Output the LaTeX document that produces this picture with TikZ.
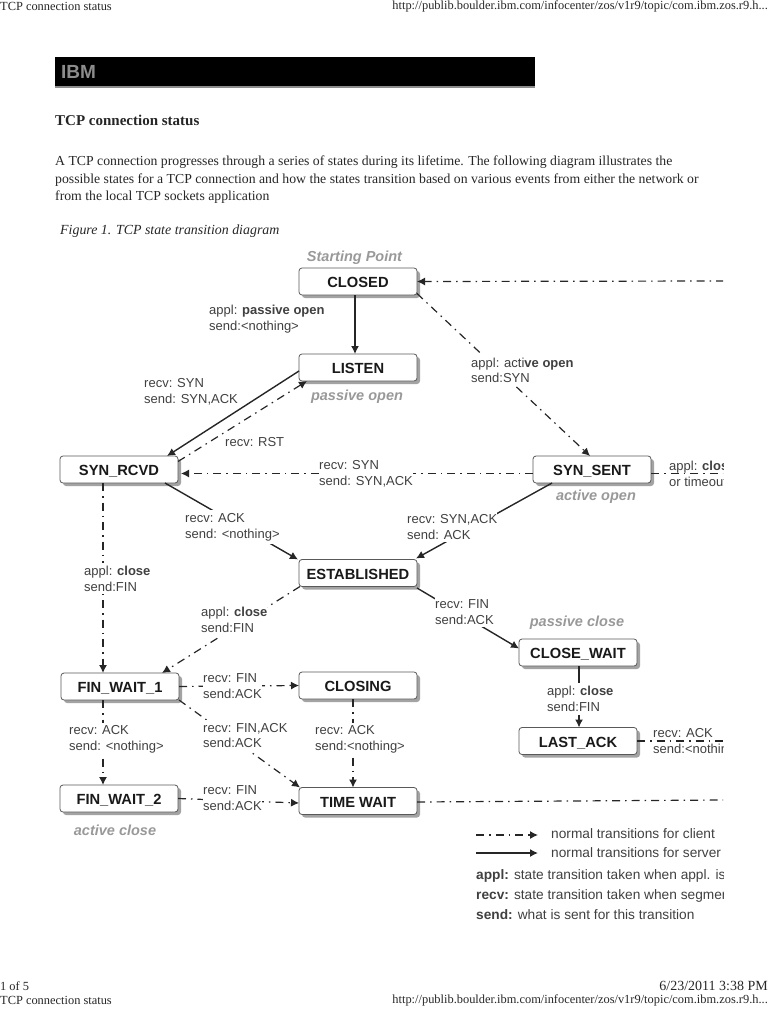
\documentclass[tikz,border=0pt]{standalone}
\usepackage{fontspec}
\setmainfont{Liberation Serif}
\setsansfont{Liberation Sans}
\usetikzlibrary{shadows,arrows.meta}
\tikzset{
  statebox/.style={draw=black!65,fill=white,rounded corners=3pt,line width=0.8pt,minimum width=118pt,minimum height=27pt,inner sep=0pt,outer sep=0pt,text height=12.6pt,text depth=0pt,
    drop shadow={shadow xshift=3pt,shadow yshift=-3pt,fill=black!45,opacity=0.8},font=\sffamily\bfseries\fontsize{14.7}{16}\selectfont,text=black!90},
  lbl/.style={anchor=west,align=left,inner xsep=0pt,inner ysep=1pt,font=\sffamily\fontsize{13}{15.7}\selectfont,text=black!75},
  mask/.style={lbl,fill=white,inner ysep=3pt},
  keytext/.style={lbl,font=\sffamily\fontsize{13.7}{15.7}\selectfont},
  tag/.style={font=\sffamily\bfseries\itshape\fontsize{14.5}{16}\selectfont,text=black!40},
  page/.style={anchor=west,inner sep=0pt,text=black!85},
  small/.style={page,font=\fontsize{12.4}{14}\selectfont},
  client/.style={-{Latex[length=8pt,width=8pt]},line width=1.2pt,black!85,dash pattern=on 8pt off 5pt on 1.5pt off 5pt},
  server/.style={-{Latex[length=8pt,width=8pt]},line width=1.4pt,black!85}
}
\begin{document}
\begin{tikzpicture}[x=1pt,y=-1pt]
  \useasboundingbox (0,0) rectangle (768,1024);

  % page around the figure
  \node[small] (headl) at (0,6) {TCP connection status};
  \node[small,anchor=east] (headr) at (768,6) {http://publib.boulder.ibm.com/infocenter/zos/v1r9/topic/com.ibm.zos.r9.h...};
  \fill[black!45] (55,84) rectangle (535,88);
  \node[fill=black,minimum width=480pt,minimum height=29pt,inner sep=0pt,anchor=north west] (banner) at (55,57) {};
  \node[page,text=black!45,font=\sffamily\bfseries\fontsize{19}{20}\selectfont] (ibm) at (61,72) {IBM};
  \node[page,font=\bfseries\fontsize{15}{17}\selectfont] (title) at (55,120.5) {TCP connection status};
  \node[page,font=\fontsize{13.75}{15}\selectfont] (body1) at (55,162) {A TCP connection progresses through a series of states during its lifetime.  The following diagram illustrates the};
  \node[page,font=\fontsize{13.75}{15}\selectfont] (body2) at (55,180) {possible states for a TCP connection and how the states transition based on various events from either the network or};
  \node[page,font=\fontsize{13.75}{15}\selectfont] (body3) at (55,197) {from the local TCP sockets application};
  \node[page,font=\itshape\fontsize{13.9}{15}\selectfont] (caption) at (60,231) {Figure 1. TCP state transition diagram};
  \node[small] (pageno) at (0,986) {1 of 5};
  \node[small,anchor=east,font=\fontsize{14}{15}\selectfont] (stamp) at (768,986) {6/23/2011 3:38 PM};
  \node[small] (footl) at (0,1000) {TCP connection status};
  \node[small,anchor=east] (footr) at (768,1000) {http://publib.boulder.ibm.com/infocenter/zos/v1r9/topic/com.ibm.zos.r9.h...};

  \begin{scope}
  \clip (40,245) rectangle (723,930);

  % states
  \node[statebox] (closed) at (358,281.5) {CLOSED};
  \node[statebox] (listen) at (358,367.5) {LISTEN};
  \node[statebox] (synrcvd) at (119,469.5) {SYN\_RCVD};
  \node[statebox] (synsent) at (592,469.5) {SYN\_SENT};
  \node[statebox] (established) at (358,573) {ESTABLISHED};
  \node[statebox] (finwaita) at (120,686.5) {FIN\_WAIT\_1};
  \node[statebox] (closing) at (358,685.5) {CLOSING};
  \node[statebox] (finwaitb) at (119,798.5) {FIN\_WAIT\_2};
  \node[statebox] (timewait) at (358,801) {TIME WAIT};
  \node[statebox] (closewait) at (578,652.5) {CLOSE\_WAIT};
  \node[statebox] (lastack) at (578,741) {LAST\_ACK};

  % free ends at the cut edge
  \coordinate (closedin) at (724,281);
  \coordinate (sentout) at (724,473.5);
  \coordinate (lastout) at (724,741);
  \coordinate (waitout) at (724,800);

  % server transitions
  \draw[server] ([xshift=-3pt]closed.south) -- ([xshift=-3pt]listen.north);
  \draw[server] ([yshift=-3.5pt]listen.west) -- ([xshift=48pt]synrcvd.north);
  \draw[server] ([xshift=46pt]synrcvd.south) -- ([xshift=-60pt]established.north);
  \draw[server] ([xshift=-40pt]synsent.south) -- ([xshift=58pt,yshift=1pt]established.north);
  \draw[server] ([yshift=-1.5pt]established.south east) -- ([yshift=4pt]closewait.west);
  \draw[server] ([xshift=1pt]closewait.south) -- ([xshift=1pt]lastack.north);

  % client transitions
  \draw[client] (closedin) -- (closed.east);
  \draw[client] ([yshift=-12pt]closed.east) -- ([xshift=-2pt]synsent.north);
  \draw[client] ([yshift=8pt]synrcvd.east) -- ([xshift=-51pt]listen.south);
  \draw[client] ([yshift=-4pt]synsent.west) -- ([xshift=3pt,yshift=-4pt]synrcvd.east);
  \draw[client,-] ([yshift=-4pt]synsent.east) -- (sentout);
  \draw[client] ([xshift=-16pt]synrcvd.south) -- ([xshift=-17pt]finwaita.north);
  \draw[client] ([xshift=-58pt]established.south) -- ([xshift=42pt]finwaita.north);
  \draw[client] (finwaita.east) -- (closing.west);
  \draw[client] (finwaita.south east) -- ([xshift=-58pt]timewait.north);
  \draw[client] ([xshift=-5pt]closing.south) -- ([xshift=-5pt]timewait.north);
  \draw[client] ([xshift=-17pt]finwaita.south) -- ([xshift=-16pt]finwaitb.north);
  \draw[client] (finwaitb.east) -- ([yshift=-2pt]timewait.west);
  \draw[client,-] (lastack.east) -- (lastout);
  \draw[client,-] ([yshift=-1pt]timewait.east) -- (waitout);

  % labels on the transitions
  \node[mask] (l1) at (209,319) {appl: \textbf{passive open}\\send:<nothing>};
  \node[lbl] (l2) at (144,392) {recv: SYN\\send: SYN,ACK};
  \node[lbl] (l3) at (225,442) {recv: RST};
  \node[mask] (l4) at (319,473.5) {recv: SYN\\send: SYN,ACK};
  \node[mask] (l5) at (185,527) {recv: ACK\\send: <nothing>};
  \node[mask] (l6) at (407,527) {recv: SYN,ACK\\send: ACK};
  \node[mask] (l7) at (471,370.5) {appl: acti\textbf{ve open}\\send:SYN};
  \node[lbl] (l8) at (669,473.5) {appl: \textbf{close}\\or timeout};
  \node[mask] (l9) at (84,578.5) {appl: \textbf{close}\\send:FIN};
  \node[mask] (l10) at (201,620) {appl: \textbf{close}\\send:FIN};
  \node[mask] (l11) at (435,612) {recv: FIN\\send:ACK};
  \node[mask] (l12) at (547,699) {appl: \textbf{close}\\send:FIN};
  \node[lbl] (l13) at (653,742) {recv: ACK\\send:<nothing>};
  \node[mask] (l14) at (203,686) {recv: FIN\\send:ACK};
  \node[mask] (l15) at (203,735.5) {recv: FIN,ACK\\send:ACK};
  \node[mask] (l16) at (315,739.5) {recv: ACK\\send:<nothing>};
  \node[mask] (l17) at (69,739.5) {recv: ACK\\send: <nothing>};
  \node[mask] (l18) at (203,798) {recv: FIN\\send:ACK};

  % grey notes
  \node[tag] (start) at (354.5,258) {Starting Point};
  \node[tag] (passopen) at (357,397) {passive open};
  \node[tag] (actopen) at (596,497) {active open};
  \node[tag] (passclose) at (577,623) {passive close};
  \node[tag] (actclose) at (115,830) {active close};

  % legend
  \coordinate (keya) at (476,835);
  \coordinate (keyb) at (538,835);
  \coordinate (keyc) at (476,853);
  \coordinate (keyd) at (538,853);
  \draw[client] (keya) -- (keyb);
  \draw[server] (keyc) -- (keyd);
  \node[keytext] (key1) at (551,834) {normal transitions for client};
  \node[keytext] (key2) at (551,853) {normal transitions for server};
  \node[keytext] (key3) at (476,876) {\textbf{appl:} state transition taken when appl. is};
  \node[keytext] (key4) at (476,896) {\textbf{recv:} state transition taken when segment};
  \node[keytext] (key5) at (476,915) {\textbf{send:} what is sent for this transition};
  \end{scope}
\end{tikzpicture}
\end{document}
